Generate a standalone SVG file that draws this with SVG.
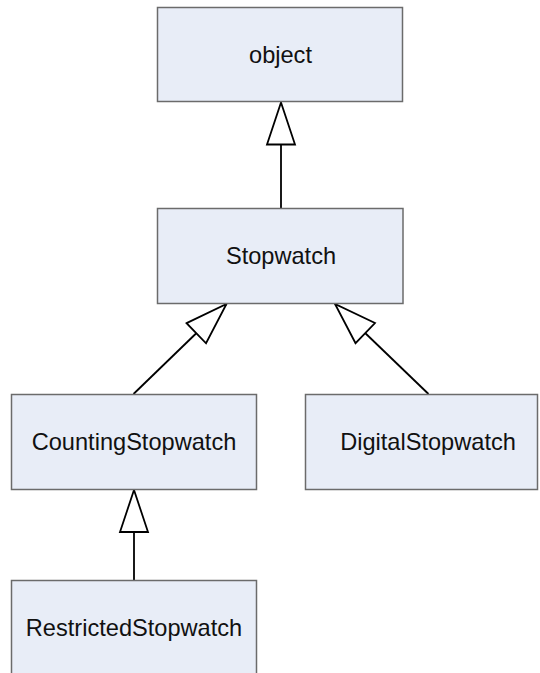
<svg xmlns="http://www.w3.org/2000/svg" width="540" height="673" viewBox="0 0 540 673">
  <style>
    .box { fill: #e8edf7; stroke: #6b6b6b; stroke-width: 1.5; }
    .lbl { font-family: "Liberation Sans", Arial, sans-serif; font-size: 23.6px; fill: #111; text-anchor: middle; }
    .conn { stroke: #000; stroke-width: 1.8; fill: none; marker-end: url(#gen); }
  </style>
  <defs>
    <marker id="gen" markerUnits="userSpaceOnUse" viewBox="0 0 46 32" refX="44" refY="16" markerWidth="46" markerHeight="32" orient="auto">
      <path d="M2,2 L44,16 L2,30 Z" fill="#fff" stroke="#000" stroke-width="1.8" stroke-linejoin="miter"/>
    </marker>
  </defs>
  <rect width="540" height="673" fill="#fff"/>
  <g id="connectors">
    <line class="conn" x1="281" y1="208" x2="281" y2="102.5"/>
    <line class="conn" x1="133.5" y1="394" x2="226.5" y2="304"/>
    <line class="conn" x1="428.5" y1="394" x2="335" y2="304"/>
    <line class="conn" x1="134" y1="580" x2="134" y2="490"/>
  </g>
  <g id="object">
    <rect class="box" x="157.5" y="7.5" width="245" height="94"/>
    <text class="lbl" x="280.5" y="62.5">object</text>
  </g>
  <g id="Stopwatch">
    <rect class="box" x="157.5" y="208.5" width="245.5" height="95"/>
    <text class="lbl" x="281" y="264">Stopwatch</text>
  </g>
  <g id="CountingStopwatch">
    <rect class="box" x="11.5" y="394.5" width="245" height="95"/>
    <text class="lbl" x="134" y="449.5">CountingStopwatch</text>
  </g>
  <g id="DigitalStopwatch">
    <rect class="box" x="305.5" y="394.5" width="232" height="95"/>
    <text class="lbl" x="428" y="449.5">DigitalStopwatch</text>
  </g>
  <g id="RestrictedStopwatch">
    <rect class="box" x="11.5" y="580.5" width="245" height="95"/>
    <text class="lbl" x="134" y="636">RestrictedStopwatch</text>
  </g>
</svg>
